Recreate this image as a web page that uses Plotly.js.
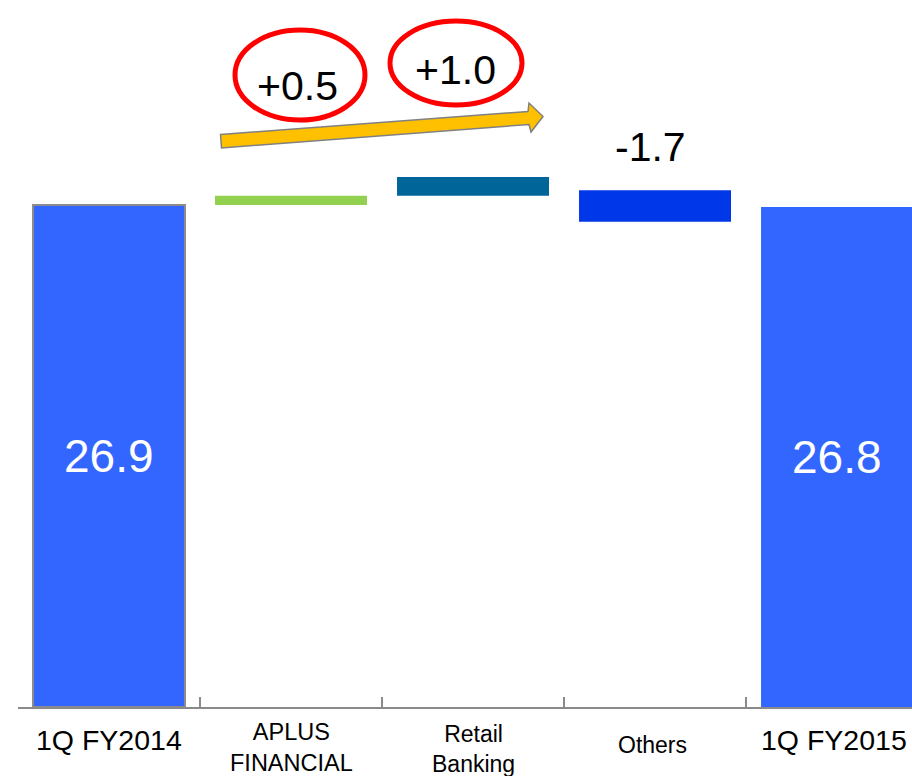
<!DOCTYPE html>
<html>
<head>
<meta charset="utf-8">
<script src="https://cdn.plot.ly/plotly-3.0.1.min.js"></script>
<style>
  html, body { margin: 0; padding: 0; background: #ffffff; }
  #chart { width: 912px; height: 776px; }
</style>
</head>
<body>
<div id="chart"></div>
<script>
// ---- data ----
var categories = ['1Q FY2014', 'APLUS FINANCIAL', 'Retail Banking', 'Others', '1Q FY2015'];
var tickLabels = ['1Q FY2014', 'APLUS<br>FINANCIAL', 'Retail<br>Banking', 'Others', '1Q FY2015'];
var values = [26.9, 0.5, 1.0, -1.7, 26.8];          // bar lengths (signed)
var bases = [0, 26.9, 27.4, 27.7, 0];                // bar start levels as drawn
var barColors = ['#3366FF', '#92D050', '#006699', '#0037E8', '#3366FF'];
var isTotal = [true, false, false, false, true];

// ---- layout geometry helpers (pixels -> paper) ----
var W = 912, H = 776, ML = 18, MR = 0, MT = 0, MB = 69;
var PW = W - ML - MR, PH = H - MT - MB;
function pxX(x) { return (x - ML) / PW; }
function pxY(y) { return (H - MB - y) / PH; }
var yMax = 37.89;

function fmtDelta(v) { return (v > 0 ? '+' : '') + v.toFixed(1); }

var trace = {
  type: 'bar',
  x: categories,
  y: values,
  base: bases,
  width: 0.835,
  marker: {
    color: barColors,
    line: { color: '#8c8c8c', width: isTotal.map(function (t, i) { return i === 0 ? 2 : 0; }) }
  },
  hoverinfo: 'skip',
  showlegend: false
};

var annotations = [];
var font = 'Liberation Sans, Arial, sans-serif';

// category labels below axis
var labelY = [740, 747, 749, 745, 740];
var labelSize = [28.5, 23.5, 23, 23, 28.5];
var labelShift = [0, 0, 0, -3, -3];
categories.forEach(function (c, i) {
  annotations.push({
    x: c, xref: 'x', y: pxY(labelY[i]), yref: 'paper', xshift: labelShift[i],
    text: tickLabels[i], showarrow: false, xanchor: 'center', yanchor: 'middle',
    font: { family: font, size: labelSize[i], color: '#000000' }
  });
});

// total values inside bars
categories.forEach(function (c, i) {
  if (!isTotal[i]) return;
  annotations.push({
    x: c, xref: 'x', y: bases[i] + values[i] / 2, yref: 'y',
    text: values[i].toFixed(1), showarrow: false, xanchor: 'center', yanchor: 'middle',
    font: { family: font, size: 46, color: '#ffffff' }
  });
});

// delta labels (free placement as in the slide)
var deltaPos = { 1: [297, 86], 2: [455, 70], 3: [650, 147] };
categories.forEach(function (c, i) {
  if (isTotal[i]) return;
  annotations.push({
    x: pxX(deltaPos[i][0]), xref: 'paper', y: pxY(deltaPos[i][1]), yref: 'paper',
    text: fmtDelta(values[i]), showarrow: false, xanchor: 'center', yanchor: 'middle',
    font: { family: font, size: 41, color: '#000000' }
  });
});

// decorations: red ellipses and yellow arrow
function pt(x, y) { return pxX(x).toFixed(5) + ',' + pxY(y).toFixed(5); }
var arrowPath = 'M' + pt(220.5, 134.5) + ' L' + pt(528, 111.5) + ' L' + pt(529, 103) +
  ' L' + pt(543, 116.5) + ' L' + pt(531, 132) + ' L' + pt(529, 124.5) +
  ' L' + pt(221.5, 148) + ' Z';

var shapes = [
  { type: 'circle', xref: 'paper', yref: 'paper',
    x0: pxX(235), x1: pxX(365), y0: pxY(120), y1: pxY(30),
    line: { color: '#FF0000', width: 5 }, fillcolor: 'rgba(0,0,0,0)' },
  { type: 'circle', xref: 'paper', yref: 'paper',
    x0: pxX(390), x1: pxX(522), y0: pxY(105), y1: pxY(21),
    line: { color: '#FF0000', width: 5 }, fillcolor: 'rgba(0,0,0,0)' },
  { type: 'path', xref: 'paper', yref: 'paper', path: arrowPath,
    fillcolor: '#FFC000', line: { color: '#808080', width: 1.5 } }
];

var layout = {
  width: W, height: H,
  margin: { l: ML, r: MR, t: MT, b: MB, pad: 0 },
  paper_bgcolor: '#ffffff', plot_bgcolor: '#ffffff',
  showlegend: false,
  bargap: 0.165,
  xaxis: {
    type: 'category',
    categoryorder: 'array', categoryarray: categories,
    range: [-0.5, 4.412],
    showline: true, linecolor: '#8a8a8a', linewidth: 2,
    ticks: 'inside', ticklen: 10, tickwidth: 2, tickcolor: '#8a8a8a',
    tickson: 'boundaries',
    showticklabels: false, showgrid: false, zeroline: false, fixedrange: true
  },
  yaxis: {
    range: [0, yMax], visible: false, showgrid: false, zeroline: false, fixedrange: true
  },
  annotations: annotations,
  shapes: shapes
};

Plotly.newPlot('chart', [trace], layout, { displayModeBar: false, staticPlot: true });
</script>
</body>
</html>
